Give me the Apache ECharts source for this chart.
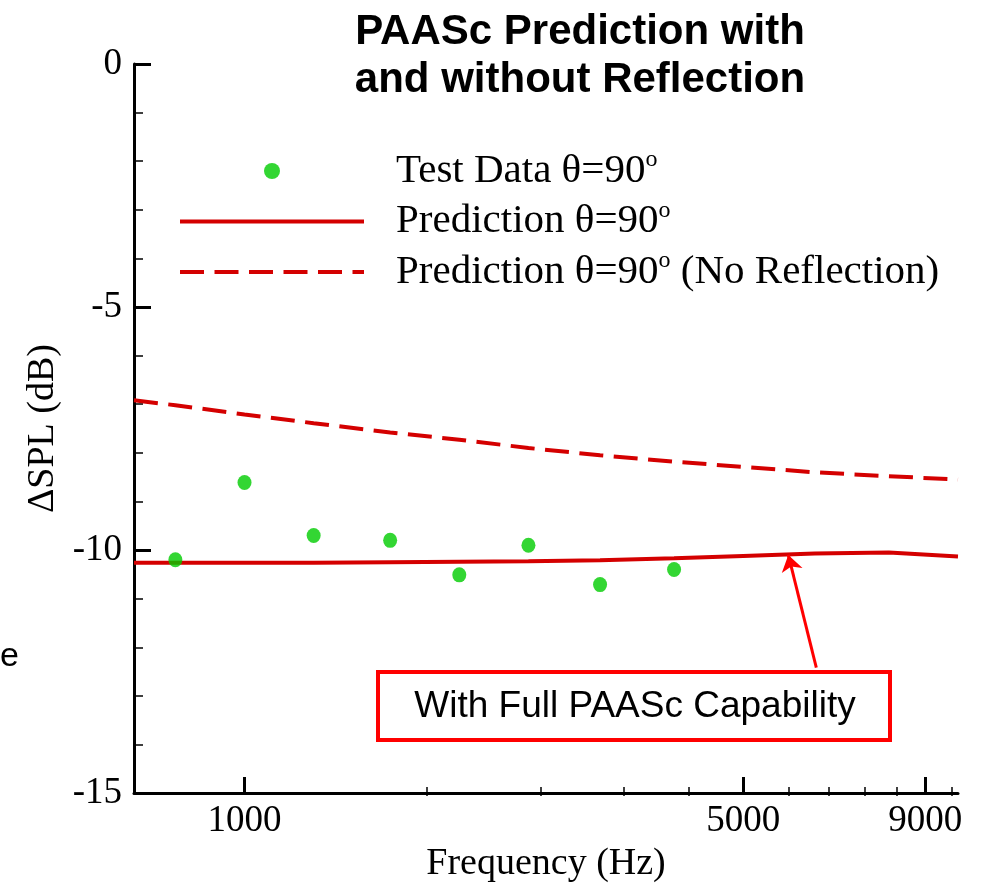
<!DOCTYPE html>
<html><head><meta charset="utf-8">
<script src="https://cdn.jsdelivr.net/npm/echarts@6/dist/echarts.min.js"></script>
<style>html,body{margin:0;padding:0;background:#fff}#c{width:987px;height:888px}</style>
</head><body><div id="c"></div>
<script>
// ---- data ----
const testFreq = [800, 1000, 1250, 1600, 2000, 2500, 3150, 4000];
const testSPL = [-10.20, -8.61, -9.70, -9.80, -10.51, -9.90, -10.71, -10.40];
const predFreq = [700, 800, 1000, 1250, 1600, 2000, 2500, 3150, 4000, 5000, 6300, 8000, 10000];
const predSPL = [-10.26, -10.26, -10.26, -10.26, -10.25, -10.24, -10.23, -10.21, -10.17, -10.12, -10.07, -10.05, -10.13];
const noReflSPL = [-6.92, -7.02, -7.21, -7.39, -7.58, -7.73, -7.90, -8.05, -8.18, -8.29, -8.40, -8.48, -8.55];
const xMajorTicks = [1000, 5000, 9000];
const xMinorTicks = [1800, 2600, 3400, 4200, 5800, 6600, 7400, 8200, 9800];
const arrowFrom = [6330, -12.42];
const arrowTo = [5783, -10.10];

const SERIF = 'Liberation Serif';
const zip = (a, b) => a.map((v, i) => [v, b[i]]);

const chart = echarts.init(document.getElementById('c'), null, {renderer: 'canvas'});
const supRich = {
  t: {fontFamily: SERIF, fontSize: 41, color: '#000', lineHeight: 42},
  s: {fontFamily: SERIF, fontSize: 24, color: '#000', padding: [0, 0, 22, 0]}
};
const gridRect = {left: 134, top: 64, width: 824, height: 732, containLabel: false};
const lineRed = '#d40000';
chart.setOption({
  animation: false,
  backgroundColor: '#fff',
  grid: [Object.assign({}, gridRect), Object.assign({}, gridRect)],
  xAxis: [{
    gridIndex: 0, type: 'log', logBase: 10, min: 700, max: 10000, position: 'bottom',
    name: 'Frequency (Hz)', nameLocation: 'middle', nameGap: 44,
    nameTextStyle: {fontFamily: SERIF, fontSize: 38, color: '#000'},
    axisLine: {show: true, onZero: false, lineStyle: {color: '#000', width: 3}},
    axisTick: {show: true, inside: true, length: 16, customValues: xMajorTicks, lineStyle: {color: '#000', width: 3}},
    axisLabel: {show: true, customValues: xMajorTicks, margin: 10, fontFamily: SERIF, fontSize: 37, color: '#000',
      formatter: v => String(Math.round(v))},
    splitLine: {show: false}, minorTick: {show: false}
  }, {
    gridIndex: 1, type: 'log', logBase: 10, min: 700, max: 10000, position: 'bottom',
    axisLine: {show: false, onZero: false},
    axisTick: {show: true, inside: true, length: 9, customValues: xMinorTicks, lineStyle: {color: '#000', width: 1.5}},
    axisLabel: {show: false},
    splitLine: {show: false}, minorTick: {show: false}
  }],
  yAxis: [{
    gridIndex: 0, type: 'value', min: -15, max: 0, interval: 5,
    name: 'ΔSPL (dB)', nameLocation: 'middle', nameGap: 66,
    nameTextStyle: {fontFamily: SERIF, fontSize: 38, color: '#000'},
    axisLine: {show: true, onZero: false, lineStyle: {color: '#000', width: 3}},
    axisTick: {show: true, inside: true, length: 17, lineStyle: {color: '#000', width: 3}},
    minorTick: {show: true, splitNumber: 5, length: 9, lineStyle: {color: '#000', width: 1.5}},
    axisLabel: {margin: 12, fontFamily: SERIF, fontSize: 37, color: '#000'},
    splitLine: {show: false}
  }, {
    gridIndex: 1, type: 'value', min: -15, max: 0, show: false, axisLine: {onZero: false}
  }],
  legend: {
    orient: 'vertical', left: 178, top: 148, padding: 0, itemWidth: 184, itemHeight: 16, itemGap: 7,
    data: [
      {name: 'Test Data'},
      {name: 'Prediction', itemStyle: {opacity: 0, borderWidth: 0}, lineStyle: {width: 4}},
      {name: 'Prediction (No Reflection)', itemStyle: {opacity: 0, borderWidth: 0}, lineStyle: {width: 4}}
    ],
    textStyle: {fontFamily: SERIF, fontSize: 41, color: '#000', padding: [0, 0, 0, 27], rich: supRich},
    formatter: function (name) {
      if (name === 'Test Data') return '{t|Test Data θ=90}{s|o}';
      if (name === 'Prediction') return '{t|Prediction θ=90}{s|o}';
      return '{t|Prediction θ=90}{s|o}{t| (No Reflection)}';
    },
    selectedMode: false
  },
  series: [{
    name: 'Prediction (No Reflection)', type: 'line', xAxisIndex: 0, yAxisIndex: 0,
    data: zip(predFreq, noReflSPL), symbol: 'none', showSymbol: false,
    lineStyle: {color: lineRed, width: 4, type: [24, 10.5]}, itemStyle: {color: lineRed}, z: 2
  }, {
    name: 'Prediction', type: 'line', xAxisIndex: 0, yAxisIndex: 0,
    data: zip(predFreq, predSPL), symbol: 'none', showSymbol: false,
    lineStyle: {color: lineRed, width: 4}, itemStyle: {color: lineRed}, z: 2,
    markLine: {
      silent: true, animation: false, symbol: ['none', 'arrow'], symbolSize: 16,
      lineStyle: {color: '#ff0000', width: 3, type: 'solid'}, label: {show: false},
      data: [[{coord: arrowFrom}, {coord: arrowTo}]]
    }
  }, {
    name: 'Test Data', type: 'scatter', xAxisIndex: 0, yAxisIndex: 0,
    data: zip(testFreq, testSPL), symbol: 'circle', symbolSize: [14, 15],
    itemStyle: {color: '#00cc00'}, z: 5
  }],
  graphic: [
    {type: 'text', x: 580, y: 32, style: {text: 'PAASc Prediction with', font: 'bold 42px "Liberation Sans"', fill: '#000', textAlign: 'center', textVerticalAlign: 'middle'}},
    {type: 'text', x: 580, y: 80, style: {text: 'and without Reflection', font: 'bold 42px "Liberation Sans"', fill: '#000', textAlign: 'center', textVerticalAlign: 'middle'}},
    {type: 'rect', shape: {x: 378, y: 672, width: 512, height: 68}, style: {fill: '#fff', stroke: '#ff0000', lineWidth: 4}, z: 10},
    {type: 'text', x: 635, y: 707, style: {text: 'With Full PAASc Capability', font: '37px "Liberation Sans"', fill: '#000', textAlign: 'center', textVerticalAlign: 'middle'}, z: 11},
    {type: 'text', x: 0, y: 657, style: {text: 'e', font: '34px "Liberation Sans"', fill: '#000', textAlign: 'left', textVerticalAlign: 'middle'}}
  ]
});
</script></body></html>
